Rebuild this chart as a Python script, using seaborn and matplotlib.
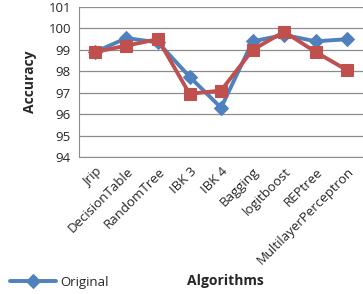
import pandas as pd
import matplotlib
matplotlib.use("Agg")
import matplotlib.pyplot as plt
import seaborn as sns

algorithms = ["Jrip", "DecisionTable", "RandomTree", "IBK 3", "IBK 4",
              "Bagging", "logitboost", "REPtree", "MultilayerPerceptron"]
original = [98.9, 99.55, 99.35, 97.75, 96.3, 99.4, 99.7, 99.4, 99.5]
reduced = [98.9, 99.2, 99.5, 96.95, 97.1, 99.0, 99.85, 98.9, 98.05]

sns.set_style("white")
plt.rcParams['font.family'] = ['Open Sans', 'DejaVu Sans']

df = pd.DataFrame({
    "Algorithm": algorithms * 2,
    "Accuracy": original + reduced,
    "Series": ["Original"] * len(algorithms) + ["Reduced"] * len(algorithms),
})

fig = plt.figure(figsize=(3.63, 2.94), dpi=100)
ax = fig.add_axes([0.218, 0.466, 0.782, 0.51])

blue = "#4F81BD"
red = "#C0504D"

sns.lineplot(data=df[df.Series == "Original"], x="Algorithm", y="Accuracy",
             sort=False, color=blue, lw=2.8, marker="D", markersize=7,
             markeredgecolor=blue, ax=ax, label="Original")
sns.lineplot(data=df[df.Series == "Reduced"], x="Algorithm", y="Accuracy",
             sort=False, color=red, lw=2.8, marker="s", markersize=9,
             markeredgecolor=red, ax=ax, label="_nolegend_")

ax.set_xlim(-0.5, len(algorithms) - 0.5)
ax.set_ylim(94, 101)
ax.set_yticks(range(94, 102))
ax.yaxis.grid(True, color="#8c8c8c", lw=0.9)
ax.set_axisbelow(True)
for s in ["top", "right"]:
    ax.spines[s].set_visible(False)
ax.spines["left"].set_color("#8c8c8c")
ax.spines["bottom"].set_color("#8c8c8c")
ax.tick_params(axis="both", length=0, labelsize=9.5, pad=6)
ax.set_xticks(range(len(algorithms)))
ax.set_xticklabels(algorithms, rotation=45, ha="right", rotation_mode="anchor")

ax.set_xlabel("")
ax.set_ylabel("Accuracy", fontsize=10, fontweight="bold", labelpad=8)
fig.text(0.62, 0.03, "Algorithms", fontsize=10, fontweight="bold", ha="center")

ax.legend(loc="lower left", bbox_to_anchor=(-0.285, -0.96), frameon=False,
          fontsize=9.5, handlelength=3.5, handletextpad=0.3)

fig.savefig("out.png", dpi=100)
